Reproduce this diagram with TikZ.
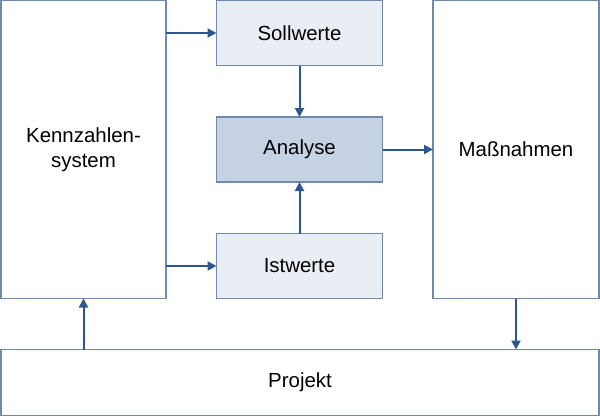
\documentclass[tikz,border=0pt]{standalone}
\usepackage{fontspec}
\setmainfont{Liberation Sans}
\usetikzlibrary{arrows.meta}
\definecolor{bordc}{RGB}{112,137,172}
\definecolor{arrc}{RGB}{44,86,140}
\definecolor{lightf}{RGB}{233,237,244}
\definecolor{darkf}{RGB}{196,210,228}
\tikzset{
  box/.style={draw=bordc, line width=1.6bp, fill=white, inner sep=0pt, outer sep=0pt, font=\fontsize{20.5}{25.5}\selectfont, align=center},
  conn/.style={draw=arrc, line width=2bp, -{Triangle[length=9bp,width=9bp]}}
}
\begin{document}
\begin{tikzpicture}[x=1bp,y=-1bp]
\useasboundingbox (0,0) rectangle (600,417);
\node[box, minimum width=165bp, minimum height=298bp] (kenn) at (83.5,149.5) {Kennzahlen-\\system};
\node[box, minimum width=166bp, minimum height=298bp] (mass) at (516,149.5) {Maßnahmen};
\node[box, fill=lightf, minimum width=166bp, minimum height=65bp] (soll) at (299.5,33) {Sollwerte};
\node[box, fill=darkf, minimum width=166bp, minimum height=65bp] (ana) at (299.5,149.5) {Analyse};
\node[box, fill=lightf, minimum width=166bp, minimum height=65bp] (ist) at (299.5,266) {Istwerte};
\node[box, minimum width=598bp, minimum height=66bp] (proj) at (300,382.5) {Projekt};
\draw[conn] (kenn.east |- soll.west) -- (soll.west);
\draw[conn] (kenn.east |- ist.west) -- (ist.west);
\draw[conn] (soll.south) -- (ana.north);
\draw[conn] (ist.north) -- (ana.south);
\draw[conn] (ana.east) -- (mass.west |- ana.east);
\draw[conn] (proj.north -| kenn.south) -- (kenn.south);
\draw[conn] (mass.south) -- (mass.south |- proj.north);
\end{tikzpicture}
\end{document}
